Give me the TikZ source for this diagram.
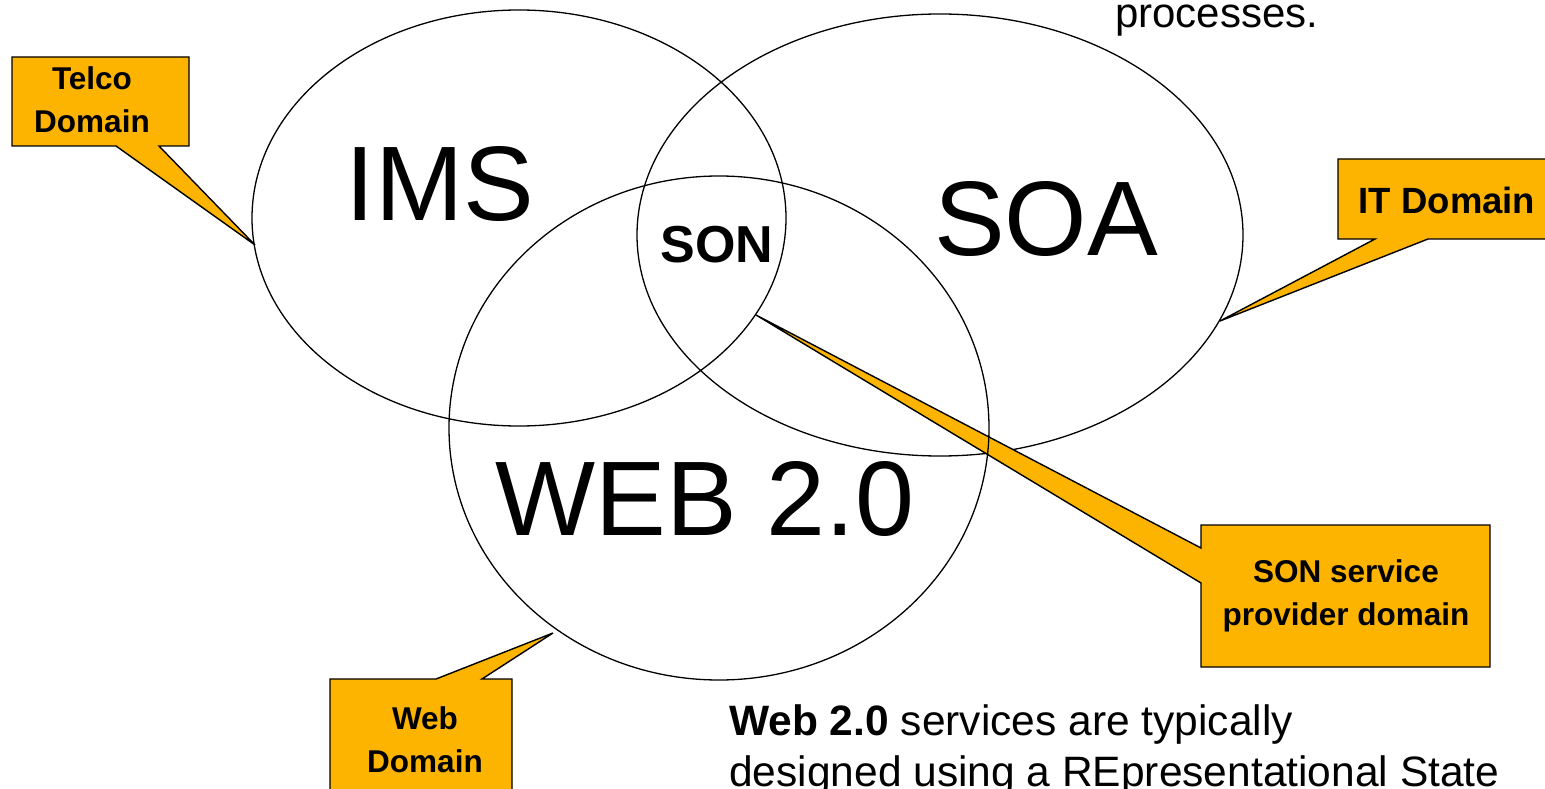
\documentclass[tikz,border=0pt]{standalone}
\usepackage{fontspec}
\setmainfont{Liberation Sans}
\definecolor{callgold}{RGB}{252,180,0}
\tikzset{
  venn/.style={draw=black, line width=1.3pt},
  callout/.style={fill=callgold, draw=black, line width=1.4pt, line join=miter},
  bigtxt/.style={font=\fontsize{106}{124}\selectfont, anchor=base, inner sep=0pt},
  calltxt/.style={font=\bfseries\fontsize{31.5}{43}\selectfont, align=center, inner sep=0pt},
  bodytxt/.style={font=\fontsize{42.5}{50}\selectfont, anchor=base west, inner sep=0pt}
}
\begin{document}
\begin{tikzpicture}[x=1pt,y=-1pt]
\clip (0,0) rectangle (1545,789);
\fill[white] (0,0) rectangle (1545,789);
% ellipses
\draw[venn] (519,218) ellipse [x radius=267, y radius=208];
\draw[venn] (940,235) ellipse [x radius=303, y radius=221];
% SON callout
\draw[callout] (1201,525) -- (1490,525) -- (1490,667) -- (1201,667) -- (1201,583) -- (756,315) -- (1201,548) -- cycle;
\draw[venn] (719,428) ellipse [x radius=270, y radius=252];
% other callouts
\draw[callout] (12,57) -- (189,57) -- (189,146) -- (159,146) -- (255,245) -- (116,146) -- (12,146) -- cycle;
\draw[callout] (1338,159) -- (1560,159) -- (1560,239) -- (1428,239) -- (1220,321) -- (1375,239) -- (1338,239) -- cycle;
\draw[callout] (330,679) -- (436,679) -- (553,633) -- (482,679) -- (512,679) -- (512,810) -- (330,810) -- cycle;
% big labels
\node[bigtxt] (ims) at (440,220) {IMS};
\node[bigtxt] (soa) at (1046,255) {SOA};
\node[bigtxt] (web) at (705,535) {WEB 2.0};
\node[font=\bfseries\fontsize{52}{60}\selectfont, anchor=base, inner sep=0pt] (son) at (717,262) {SON};
% callout texts
\node[calltxt] (telco) at (92,100) {Telco\\Domain};
\node[font=\bfseries\fontsize{36.5}{43}\selectfont, inner sep=0pt] (it) at (1447,200) {IT Domain};
\node[calltxt] (sonsp) at (1346,596) {SON service\\provider domain};
\node[calltxt] (webd) at (425,740) {Web\\Domain};
% body text
\node[font=\fontsize{42}{48}\selectfont, anchor=base west, inner sep=0pt] (proc) at (1115,28) {processes.};
\node[bodytxt] (body1) at (729,735) {\textbf{Web 2.0} services are typically};
\node[bodytxt] (body2) at (729,786) {designed using a REpresentational State};
\end{tikzpicture}
\end{document}
